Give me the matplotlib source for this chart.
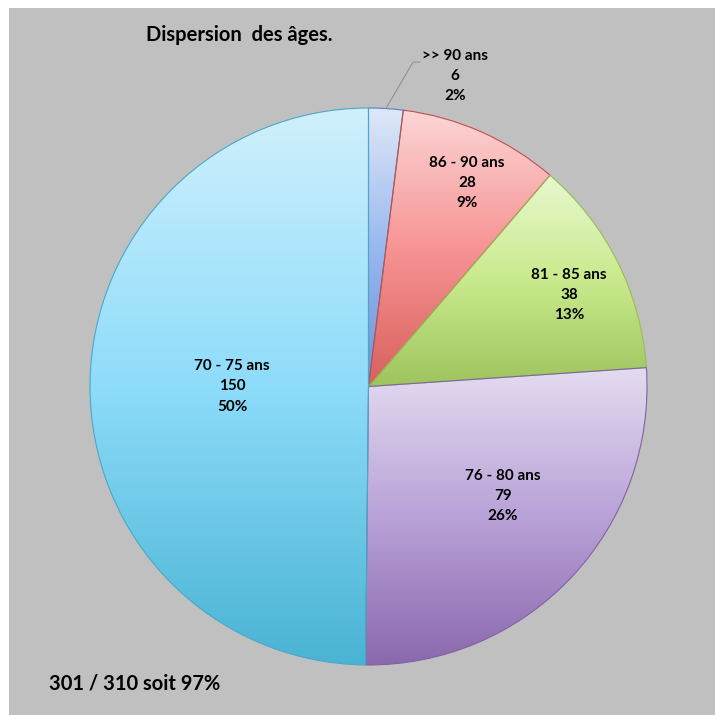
import numpy as np
import matplotlib
matplotlib.use("Agg")
import matplotlib.pyplot as plt
from matplotlib.colors import to_rgb
from matplotlib.patches import Rectangle

# data
labels = [">> 90 ans", "86 - 90 ans", "81 - 85 ans", "76 - 80 ans", "70 - 75 ans"]
counts = [6, 28, 38, 79, 150]
percents = ["2%", "9%", "13%", "26%", "50%"]
title = "Dispersion  des âges."
footer = "301 / 310 soit 97%"

# top / middle / bottom gradient stops and edge colour per slice
grads = [
    ("#dfe8f8", "#9ab8f0", "#6d93d6"),
    ("#fcd6d6", "#f79494", "#d8605c"),
    ("#e8f8d0", "#c9ea8c", "#9ec45e"),
    ("#e4dcf0", "#b9a2d8", "#8a68ad"),
    ("#d0f0fc", "#8ddcfa", "#4ab3d3"),
]
edges = ["#4f81bd", "#c0504d", "#9bbb59", "#8064a2", "#4aa8c8"]
# label centres, in units of the pie radius
label_pos = [(0.311, 1.115), (0.354, 0.731), (0.72, 0.329), (0.483, -0.393), (-0.49, 0.0)]

plt.rcParams["font.family"] = ["Lato", "DejaVu Sans"]
plt.rcParams["font.weight"] = "bold"

W = 715
fig = plt.figure(figsize=(7.15, 7.15), dpi=100, facecolor="white")
fig.patches.append(Rectangle((9 / W, 0), 1, 1 - 8 / W, transform=fig.transFigure,
                             facecolor="#c0c0c0", edgecolor="none", zorder=-5))

cx, cy, r = 368.5, 386.5, 278.5
ax = fig.add_axes([(cx - r) / W, (W - cy - r) / W, 2 * r / W, 2 * r / W])
ax.set_zorder(2)
ax.axis("off")
ax.patch.set_visible(False)

wedges, _ = ax.pie(counts, startangle=90, counterclock=False, radius=1,
                   wedgeprops=dict(linewidth=0.8))

n = 256
t = np.linspace(0, 1, n)
for w, g, ec in zip(wedges, grads, edges):
    c0, c1, c2 = [np.array(to_rgb(c)) for c in g]
    rows = np.where(t[:, None] < 0.5,
                    c0 + (c1 - c0) * (t[:, None] / 0.5),
                    c1 + (c2 - c1) * ((t[:, None] - 0.5) / 0.5))
    img = rows[:, None, :]
    bb = w.get_path().get_extents()
    im = ax.imshow(img, extent=(bb.x0, bb.x1, bb.y0, bb.y1), origin="upper",
                   aspect="auto", interpolation="bilinear", zorder=1)
    im.set_clip_path(w)
    w.set_facecolor("none")
    w.set_edgecolor(ec)
    w.set_zorder(2)

ax.set_xlim(-1, 1)
ax.set_ylim(-1, 1)

for (x, y), lab, c, p in zip(label_pos, labels, counts, percents):
    ax.text(x, y, f"{lab}\n{c}\n{p}", ha="center", va="center", fontsize=11,
            fontweight="bold", linespacing=1.55, zorder=5)

# leader line for the small slice
m0 = np.deg2rad((wedges[0].theta1 + wedges[0].theta2) / 2)
ex, ey = np.cos(m0), np.sin(m0)
ax.plot([ex, 0.16, 0.185], [ey, 1.165, 1.165], color="#8c8c8c", lw=0.7,
        clip_on=False, zorder=4)

fig.text(146 / W, 1 - 35 / W, title, fontsize=14.5, fontweight="bold",
         ha="left", va="center")
fig.text(49 / W, 1 - 683 / W, footer, fontsize=14.5, fontweight="bold",
         ha="left", va="center")

fig.savefig("out.png", dpi=100, facecolor="white")
